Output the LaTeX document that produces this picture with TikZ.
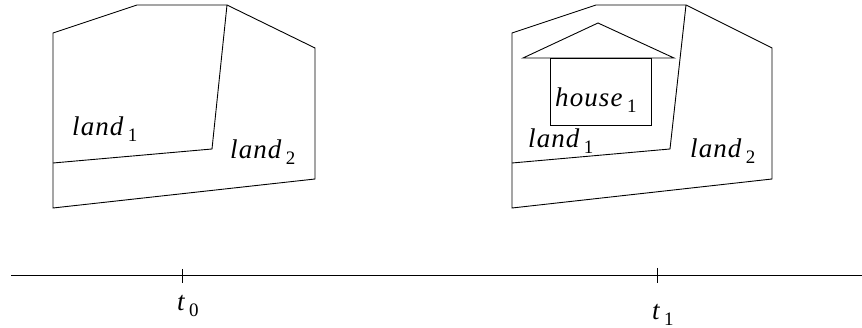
\documentclass[tikz,border=0pt]{standalone}
\usepackage{fontspec}
\setmainfont{Liberation Serif}
\newfontfamily\lblfont[LetterSpace=4, ItalicFont={Liberation Serif Italic}]{Liberation Serif}
\usetikzlibrary{positioning}

\newcommand{\indexed}[2]{#1\,\raisebox{-0.45ex}{\upshape\fontsize{19}{21}\selectfont #2}}

\tikzset{
  border/.style={line width=0.9pt, black, line join=miter},
  lbl/.style={font=\lblfont\itshape\fontsize{27}{30}\selectfont, inner sep=0pt, anchor=base west},
}

\begin{document}
\begin{tikzpicture}[x=1pt, y=-1pt]
    \useasboundingbox (0,0) rectangle (862,328);

    % --- Time t0: two parcels ---
    \begin{scope}[shift={(0,0)}]
        \draw[border] (53,33) -- (137,5) -- (227,5) -- (315,48) -- (315,179) -- (53,208) -- cycle;
        \draw[border] (227,5) -- (212,149) -- (53,163);
        \node[lbl] (landA0) at (72,136) {\indexed{land}{1}};
        \node[lbl] (landB0) at (230,159) {\indexed{land}{2}};
    \end{scope}

    % --- Time t1: same parcels, house built on land1 ---
    \begin{scope}[shift={(459,0)}]
        \draw[border] (53,33) -- (137,5) -- (227,5) -- (313,48) -- (313,179) -- (53,208) -- cycle;
        \draw[border] (227,5) -- (211,149) -- (53,163);
        % house
        \draw[border] (64,58) -- (139,23) -- (215,58) -- cycle;
        \draw[border] (91,58) rectangle (192,125);
        \node[lbl] (house1) at (96,107) {\indexed{house}{1}};
        \node[lbl] (landA1) at (69,148) {\indexed{land}{1}};
        \node[lbl] (landB1) at (231,158) {\indexed{land}{2}};
    \end{scope}

    % --- Time axis ---
    \coordinate (start) at (11,275);
    \coordinate (end) at (862,275);
    \coordinate (tick0) at (182,275);
    \coordinate (tick1) at (657,275);
    \draw[line width=0.9pt] (start) -- (end);
    \draw[line width=0.9pt] ([yshift=6pt]tick0) -- ([yshift=-8pt]tick0);
    \draw[line width=0.9pt] ([yshift=7pt]tick1) -- ([yshift=-8pt]tick1);
    \node[lbl] (t0) at (177,311) {\indexed{t}{0}};
    \node[lbl] (t1) at (652,320) {\indexed{t}{1}};

\end{tikzpicture}
\end{document}
